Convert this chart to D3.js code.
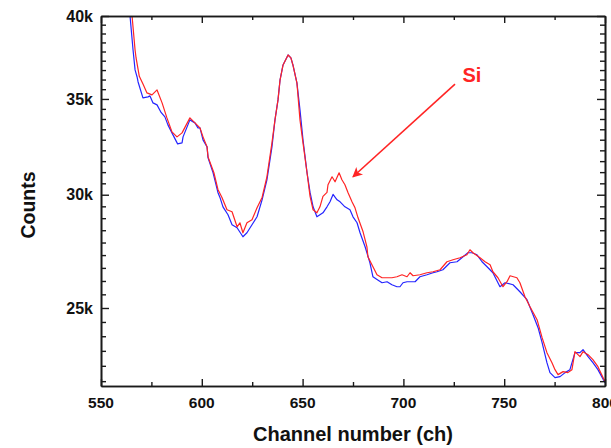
<!DOCTYPE html>
<html>
<head>
<meta charset="utf-8">
<script src="https://cdn.jsdelivr.net/npm/d3@7"></script>
<style>
    body { margin: 0; background: #ffffff; }
    svg { display: block; }
</style>
</head>
<body>
<script>

// Channel / counts
var blueChannels = [563.0, 564.4, 565.9, 566.9, 567.9, 568.4, 570.8, 573.3, 574.3, 575.8, 577.8, 579.8,
    581.7, 583.2, 585.7, 588.0, 590.2, 590.7, 591.7, 594.1, 596.6, 598.1, 599.1, 600.6, 602.6, 603.1,
    605.6, 608.0, 609.0, 610.5, 613.0, 615.0, 617.5, 620.4, 622.4, 624.9, 627.4, 629.9, 632.3, 634.8,
    636.3, 637.8, 638.8, 640.3, 642.3, 642.8, 644.2, 645.2, 647.2, 648.7, 650.2, 652.2, 653.7, 655.2,
    657.1, 658.6, 660.1, 661.1, 662.1, 663.6, 665.1, 667.1, 668.6, 671.0, 673.5, 675.0, 677.0, 678.5,
    681.0, 683.4, 684.9, 687.1, 689.4, 691.9, 694.3, 696.8, 698.3, 699.8, 701.8, 705.8, 708.2, 711.7,
    714.7, 716.7, 719.6, 723.1, 726.6, 729.6, 732.0, 734.0, 736.5, 739.0, 741.5, 744.4, 747.9, 750.4,
    754.4, 757.8, 761.3, 764.3, 766.8, 768.8, 771.2, 772.7, 775.2, 777.7, 780.2, 782.6, 785.1, 787.6,
    789.1, 791.6, 794.0, 796.5, 800.0];
var blueCounts = [41500, 40000, 37871, 36674, 36260, 35970, 35060, 35117, 35173, 34779, 34667, 34250,
    34004, 33570, 33034, 32559, 32611, 32928, 33194, 33841, 33678, 33408, 33408, 32769, 32402, 31834,
    31080, 30111, 29870, 29422, 29046, 28583, 28445, 28036, 28217, 28583, 28953, 29756, 30730, 32400,
    33841, 34947, 36080, 36968, 37447, 37568, 37388, 36968, 35906, 34390, 32769, 31080, 30111, 29422,
    28953, 29046, 29140, 29280, 29422, 29660, 30015, 29756, 29660, 29422, 29280, 28953, 28675, 28217,
    27589, 26888, 26289, 26163, 26037, 26079, 25953, 25870, 25870, 26037, 26079, 26079, 26289, 26374,
    26459, 26502, 26587, 26888, 26932, 27149, 27324, 27324, 27236, 26932, 26716, 26459, 25870, 26037,
    25953, 25663, 25335, 24732, 24220, 23643, 22894, 22530, 22349, 22385, 22530, 22638, 23266, 23266,
    23378, 23116, 22894, 22638, 22170];

var redChannels = [563.5, 565.4, 566.9, 567.4, 569.0, 571.0, 572.8, 575.3, 577.8, 580.3, 582.7, 585.2,
    587.7, 590.2, 594.1, 599.1, 600.6, 602.6, 603.1, 606.0, 608.0, 610.0, 612.5, 615.0, 617.5, 618.9,
    620.4, 622.4, 624.9, 627.4, 629.9, 632.3, 634.8, 636.3, 637.8, 638.8, 640.3, 642.3, 642.8, 644.2,
    645.2, 647.2, 648.7, 650.2, 652.2, 653.7, 655.2, 657.1, 658.6, 660.1, 662.1, 662.6, 664.6, 666.1,
    668.1, 669.5, 671.0, 672.5, 674.5, 676.0, 677.5, 680.0, 681.9, 682.4, 684.9, 686.9, 689.4, 691.9,
    694.3, 696.8, 699.3, 701.8, 703.3, 704.8, 708.2, 711.7, 714.7, 718.2, 721.6, 724.6, 728.1, 731.5,
    733.0, 734.5, 738.0, 740.5, 743.0, 744.4, 746.9, 749.4, 751.4, 752.9, 756.3, 757.8, 760.3, 762.8,
    766.3, 768.8, 771.2, 773.7, 775.2, 776.7, 779.2, 781.6, 783.6, 785.1, 787.6, 789.1, 791.6, 794.0,
    796.5, 800.0];
var redCounts = [41500, 40000, 37871, 37388, 36300, 35803, 35343, 35229, 35512, 34779, 33950, 33194,
    32928, 33140, 33950, 33408, 32928, 32402, 31885, 31080, 30256, 29870, 29280, 29186, 28491, 28675,
    28217, 28675, 28814, 29375, 29870, 30880, 32611, 33841, 34947, 36080, 36968, 37447, 37568, 37388,
    36968, 35906, 33841, 32611, 31080, 29919, 29280, 29140, 29422, 29919, 30111, 30484, 30880, 30632,
    31080, 30730, 30484, 30111, 29660, 29375, 28906, 28263, 27589, 27149, 26716, 26374, 26247, 26247,
    26247, 26289, 26374, 26289, 26459, 26332, 26374, 26459, 26502, 26587, 26932, 27018, 27105, 27236,
    27456, 27324, 27105, 26932, 26802, 26502, 26247, 25870, 26079, 26332, 26247, 26037, 25458, 25052,
    24534, 23834, 23266, 22894, 22638, 22457, 22566, 22530, 22638, 23303, 23116, 23303, 23191, 23005,
    22747, 22206];

var xTicks = [550, 600, 650, 700, 750, 800];
var xMinorTicks = [575, 625, 675, 725, 775];
var yTicks = [25000, 30000, 35000, 40000];
var yTickLabels = ['25k', '30k', '35k', '40k'];

var width = 611,
    height = 448,
    margin = { top: 16, right: 6, bottom: 62, left: 101 },
    innerW = width - margin.left - margin.right,
    innerH = height - margin.top - margin.bottom,
    font = '"Liberation Sans", Arial, sans-serif',
    axisColor = '#1a1a1a',
    blueColor = '#2424ff',
    redColor = '#ff2424';

var x = d3.scaleLinear().domain([550, 800]).range([0, innerW]);
var y = d3.scaleLog().domain([22050, 40000]).range([innerH, 0]);

// minor ticks: 8 between each pair of majors, evenly spaced in counts
var yMinorTicks = [];
for (var m = 20000; m < 40000; m += 5000)
    for (var k = 1; k < 9; k++) {
        var v = m + k * 5000 / 9;
        if (v > y.domain()[0]) yMinorTicks.push(v);
    }

var svg = d3.select('body')
    .append('svg')
    .attr('width', width)
    .attr('height', height);

svg.append('rect')
    .attr('width', width)
    .attr('height', height)
    .attr('fill', '#ffffff');

var g = svg.append('g')
    .attr('transform', 'translate(' + margin.left + ',' + margin.top + ')');

g.append('clipPath')
    .attr('id', 'plot-clip')
    .append('rect')
    .attr('width', innerW)
    .attr('height', innerH);

var line = d3.line()
    .x(function(d) { return x(d[0]); })
    .y(function(d) { return y(d[1]); });

var blueData = d3.zip(blueChannels, blueCounts),
    redData = d3.zip(redChannels, redCounts);

var plot = g.append('g').attr('clip-path', 'url(#plot-clip)');

plot.append('path')
    .datum(blueData)
    .attr('d', line)
    .attr('fill', 'none')
    .attr('stroke', blueColor)
    .attr('stroke-width', 1.2)
    .attr('stroke-linejoin', 'round');

plot.append('path')
    .datum(redData)
    .attr('d', line)
    .attr('fill', 'none')
    .attr('stroke', redColor)
    .attr('stroke-width', 1.2)
    .attr('stroke-linejoin', 'round');

// Axes: a closed frame, ticks pointing inward
var axisStyle = function(sel) {
    sel.select('.domain').attr('stroke', axisColor).attr('stroke-width', 1.6);
    sel.selectAll('.tick line').attr('stroke', axisColor).attr('stroke-width', 1.4);
    sel.selectAll('text').remove();
};

g.append('g')
    .attr('transform', 'translate(0,' + innerH + ')')
    .call(d3.axisTop(x).tickValues(xMinorTicks).tickSize(4).tickSizeOuter(0))
    .call(axisStyle);
g.append('g')
    .attr('transform', 'translate(0,' + innerH + ')')
    .call(d3.axisTop(x).tickValues(xTicks).tickSize(7).tickSizeOuter(0))
    .call(axisStyle);
g.append('g')
    .call(d3.axisBottom(x).tickValues(xMinorTicks).tickSize(4).tickSizeOuter(0))
    .call(axisStyle);
g.append('g')
    .call(d3.axisBottom(x).tickValues(xTicks).tickSize(7).tickSizeOuter(0))
    .call(axisStyle);

g.append('g')
    .call(d3.axisRight(y).tickValues(yMinorTicks).tickSize(5).tickSizeOuter(0))
    .call(axisStyle);
g.append('g')
    .call(d3.axisRight(y).tickValues(yTicks).tickSize(8).tickSizeOuter(0))
    .call(axisStyle);
g.append('g')
    .attr('transform', 'translate(' + innerW + ',0)')
    .call(d3.axisLeft(y).tickValues(yMinorTicks).tickSize(5).tickSizeOuter(0))
    .call(axisStyle);
g.append('g')
    .attr('transform', 'translate(' + innerW + ',0)')
    .call(d3.axisLeft(y).tickValues(yTicks).tickSize(8).tickSizeOuter(0))
    .call(axisStyle);

// Tick labels
g.selectAll('.xlabel')
    .data(xTicks)
    .enter()
    .append('text')
    .attr('class', 'xlabel')
    .attr('x', function(d) { return x(d); })
    .attr('y', innerH + 22)
    .attr('text-anchor', 'middle')
    .attr('font-family', font)
    .attr('font-size', '15.5px')
    .attr('font-weight', 'bold')
    .attr('fill', '#111')
    .text(function(d) { return d; });

g.selectAll('.ylabel')
    .data(yTicks)
    .enter()
    .append('text')
    .attr('class', 'ylabel')
    .attr('x', -8)
    .attr('y', function(d) { return y(d); })
    .attr('dy', '0.36em')
    .attr('text-anchor', 'end')
    .attr('font-family', font)
    .attr('font-size', '16px')
    .attr('font-weight', 'bold')
    .attr('fill', '#111')
    .text(function(d, i) { return yTickLabels[i]; });

// Axis titles
svg.append('text')
    .attr('x', margin.left + innerW / 2)
    .attr('y', 441)
    .attr('text-anchor', 'middle')
    .attr('font-family', font)
    .attr('font-size', '20px')
    .attr('font-weight', 'bold')
    .attr('fill', '#111')
    .text('Channel number (ch)');

svg.append('text')
    .attr('transform', 'translate(35,' + (margin.top + innerH / 2 + 4) + ') rotate(-90)')
    .attr('text-anchor', 'middle')
    .attr('font-family', font)
    .attr('font-size', '19.5px')
    .attr('font-weight', 'bold')
    .attr('fill', '#111')
    .text('Counts');

// Si annotation
var arrowFrom = [725.6, 35850],
    arrowTo = [675.0, 30880],
    siAt = [729.3, 35950];

svg.append('defs')
    .append('marker')
    .attr('id', 'arrow-head')
    .attr('viewBox', '0 0 10 10')
    .attr('refX', 9)
    .attr('refY', 5)
    .attr('markerUnits', 'userSpaceOnUse')
    .attr('markerWidth', 12)
    .attr('markerHeight', 10)
    .attr('orient', 'auto')
    .append('path')
    .attr('d', 'M0,0 L10,5 L0,10 L2.5,5 Z')
    .attr('fill', redColor);

g.append('line')
    .attr('x1', x(arrowFrom[0]))
    .attr('y1', y(arrowFrom[1]))
    .attr('x2', x(arrowTo[0]))
    .attr('y2', y(arrowTo[1]))
    .attr('stroke', redColor)
    .attr('stroke-width', 1.6)
    .attr('marker-end', 'url(#arrow-head)');

g.append('text')
    .attr('x', x(siAt[0]))
    .attr('y', y(siAt[1]))
    .attr('font-family', font)
    .attr('font-size', '20px')
    .attr('font-weight', 'bold')
    .attr('fill', redColor)
    .text('Si');

</script>
</body>
</html>
